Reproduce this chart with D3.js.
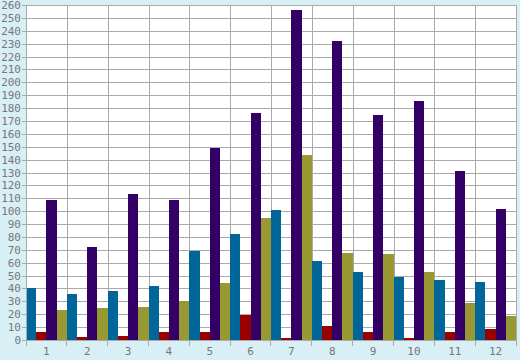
<!DOCTYPE html>
<html>
<head>
<meta charset="utf-8">
<script src="https://cdn.jsdelivr.net/npm/d3@7"></script>
<style>
  html, body { margin: 0; padding: 0; background: #d9eff6; }
  svg { display: block; }
  .axis text { font-family: "DejaVu Sans Mono", monospace; font-size: 11px; fill: #777; }
</style>
</head>
<body>
<script>
// data
var categories = ['1', '2', '3', '4', '5', '6', '7', '8', '9', '10', '11', '12']
var seriesNames = ['blue', 'red', 'purple', 'olive']
var blueValues = [40, 35.5, 38, 42, 69, 82, 101, 61, 53, 49, 46.5, 45]
var redValues = [6, 2, 3, 6, 6, 19.5, 1.5, 11, 6, 1.5, 6, 8.5]
var purpleValues = [109, 72, 113, 109, 149, 176, 256, 232, 174.5, 185.5, 131, 101.5]
var oliveValues = [23, 25, 25.5, 30, 44, 94.5, 143.5, 67.5, 66.5, 53, 28.5, 18.5]
var yTicks = d3.range(0, 261, 10)

var colors = { blue: '#006699', red: '#990000', purple: '#330066', olive: '#999933' }
var values = { blue: blueValues, red: redValues, purple: purpleValues, olive: oliveValues }

var width = 520
var height = 360
var margin = { top: 5, right: 4, bottom: 20, left: 26 }
var plotW = width - margin.left - margin.right
var plotH = height - margin.top - margin.bottom

var svg = d3.select('body')
	.append('svg')
	.attr('width', width)
	.attr('height', height)

svg.append('rect')
	.attr('width', width)
	.attr('height', height)
	.attr('fill', '#d9eff6')

var graph = svg.append('g')
	.attr('transform', `translate(${margin.left}, ${margin.top})`)

var xScale = d3.scaleBand()
	.domain(categories)
	.range([0, plotW])
	.padding(0)

var xInner = d3.scaleBand()
	.domain(seriesNames)
	.range([0, xScale.bandwidth()])
	.padding(0)

var yScale = d3.scaleLinear()
	.domain([0, 260])
	.range([plotH, 0])

graph.append('rect')
	.attr('width', plotW)
	.attr('height', plotH)
	.attr('fill', '#fff')

// grid
var grid = graph.append('g')
	.attr('stroke', '#aaa')
	.attr('shape-rendering', 'crispEdges')

grid.selectAll('.h')
	.data(yTicks)
	.enter().append('line')
		.attr('x1', 0)
		.attr('x2', plotW)
		.attr('y1', d => Math.round(yScale(d)) + 0.5)
		.attr('y2', d => Math.round(yScale(d)) + 0.5)

grid.selectAll('.v')
	.data(categories.concat(['end']))
	.enter().append('line')
		.attr('x1', (d, i) => Math.round(i * xScale.step()) + 0.5)
		.attr('x2', (d, i) => Math.round(i * xScale.step()) + 0.5)
		.attr('y1', 0)
		.attr('y2', plotH)

// bars
seriesNames.forEach(function (name) {
	graph.append('g')
		.attr('fill', colors[name])
		.attr('shape-rendering', 'crispEdges')
		.selectAll('rect')
		.data(values[name])
		.enter().append('rect')
			.attr('x', (d, i) => xScale(categories[i]) + xInner(name))
			.attr('width', xInner.bandwidth())
			.attr('y', d => yScale(d))
			.attr('height', d => yScale(0) - yScale(d))
})

// axes
var yAxis = graph.append('g')
	.attr('class', 'axis')
	.call(d3.axisLeft(yScale).tickValues(yTicks).tickSize(4).tickPadding(1))

var xAxis = graph.append('g')
	.attr('class', 'axis')
	.attr('transform', `translate(0, ${plotH})`)
	.call(d3.axisBottom(xScale).tickSize(0).tickPadding(7))

xAxis.selectAll('.tick')
	.append('line')
		.attr('stroke', '#aaa')
		.attr('x1', xScale.bandwidth() / 2)
		.attr('x2', xScale.bandwidth() / 2)
		.attr('y2', 6)

graph.append('line')
	.attr('stroke', '#aaa')
	.attr('x1', 0.5).attr('x2', 0.5)
	.attr('y1', plotH).attr('y2', plotH + 6)

svg.selectAll('.axis .domain').attr('stroke', '#aaa')
svg.selectAll('.axis .tick line').attr('stroke', '#aaa')
svg.selectAll('.axis').attr('shape-rendering', 'crispEdges')
</script>
</body>
</html>
